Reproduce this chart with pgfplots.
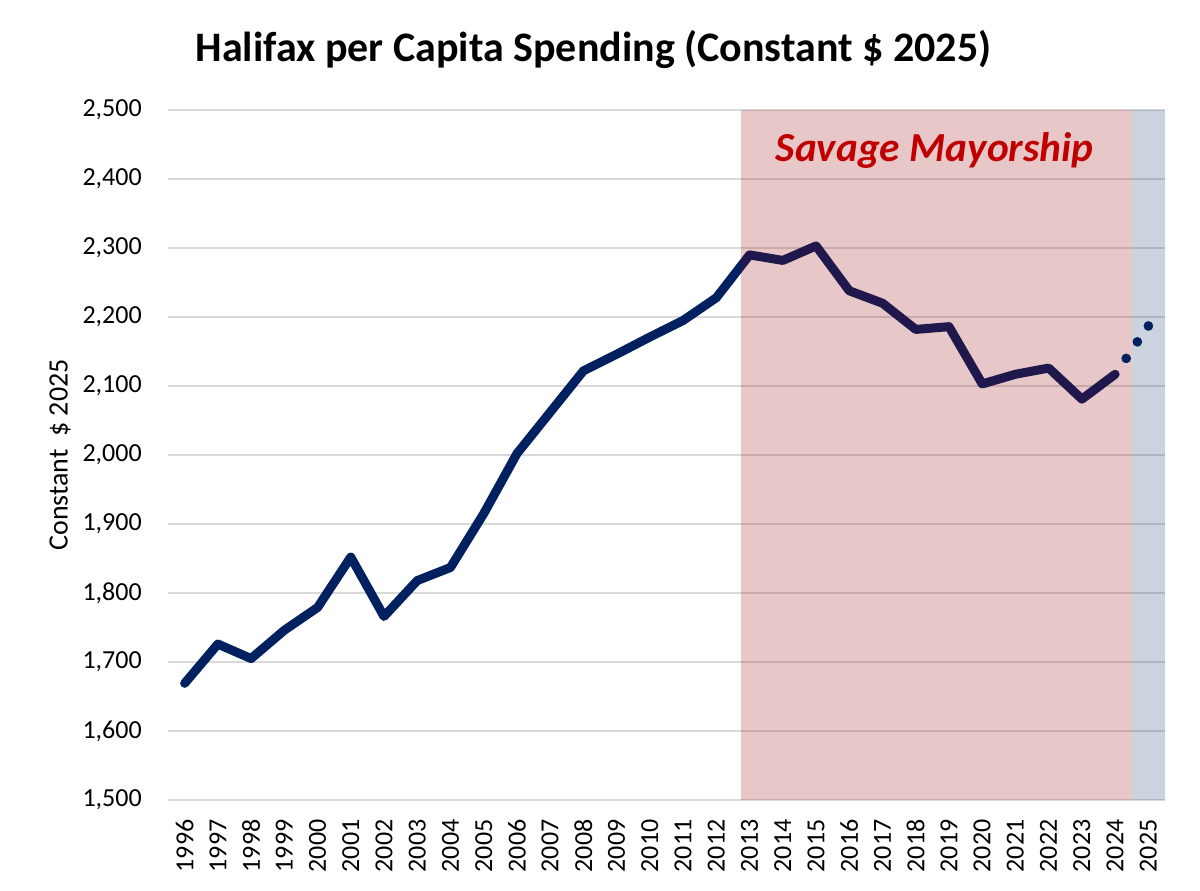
\documentclass[border=0pt]{standalone}
\usepackage{pgfplots}
\pgfplotsset{compat=1.18}
\usepackage{fontspec}
\setmainfont{Carlito}
\definecolor{navy}{RGB}{0,32,96}
\definecolor{bandred}{RGB}{150,0,10}
\definecolor{bandblue}{RGB}{48,80,124}
\definecolor{txtred}{RGB}{192,0,0}
\begin{document}
\begin{tikzpicture}
\useasboundingbox (-126pt,-67.5pt) rectangle (774pt,600pt);
\begin{axis}[
  at={(0pt,0pt)}, anchor=south west,
  scale only axis, width=747.75pt, height=517.5pt,
  xmin=1995.5, xmax=2025.5, ymin=1500, ymax=2500,
  xtick={1996,...,2025}, ytick={1500,1600,...,2500},
  axis line style={draw=none}, tick style={draw=none},
  ymajorgrids, grid style={color=black!15, line width=1.4pt},
  /pgf/number format/assume math mode=true,
  yticklabel style={/pgf/number format/1000 sep={,}, font=\fontsize{19.5}{22}\selectfont, anchor=east, inner sep=0pt, xshift=-19.5pt},
  xticklabel style={/pgf/number format/1000 sep={}, font=\fontsize{19.5}{22}\selectfont, yshift=-14.5pt, rotate=90, anchor=east, inner sep=0pt},
  ylabel={Constant\ \ \$ 2025},
  ylabel style={font=\fontsize{21}{24}\selectfont, at={(axis description cs:-0.1083,0.5)}, anchor=center},
]
\addplot[draw=none, fill=bandblue, fill opacity=0.25] coordinates {(2024.5,1500) (2025.5,1500) (2025.5,2500) (2024.5,2500)} -- cycle;
\addplot[navy, line width=6.75pt, line cap=round, line join=round] coordinates {
(1996,1669) (1997,1726) (1998,1705) (1999,1746) (2000,1779) (2001,1852)
(2002,1766) (2003,1818) (2004,1837) (2005,1915) (2006,2002) (2007,2062)
(2008,2122) (2009,2146) (2010,2171) (2011,2195) (2012,2228) (2013,2290)
(2014,2282) (2015,2303) (2016,2238) (2017,2220) (2018,2182) (2019,2186)
(2020,2103) (2021,2117) (2022,2126) (2023,2081) (2024,2117)};
\addplot[only marks, mark=*, mark size=3.4pt, navy, mark options={draw=navy, fill=navy}] coordinates {
(2024.333,2140) (2024.667,2164) (2025,2187)};
\addplot[draw=none, fill=bandred, fill opacity=0.22] coordinates {(2012.75,1500) (2024.5,1500) (2024.5,2500) (2012.75,2500)} -- cycle;
\end{axis}
\node[anchor=base, font=\bfseries\fontsize{31.5}{36}\selectfont] at (319pt,553.5pt) {Halifax per Capita Spending (Constant \$ 2025)};
\node[anchor=base, text=txtred, font=\bfseries\itshape\fontsize{31}{36}\selectfont] at (575pt,478.7pt) {Savage Mayorship};
\end{tikzpicture}
\end{document}
